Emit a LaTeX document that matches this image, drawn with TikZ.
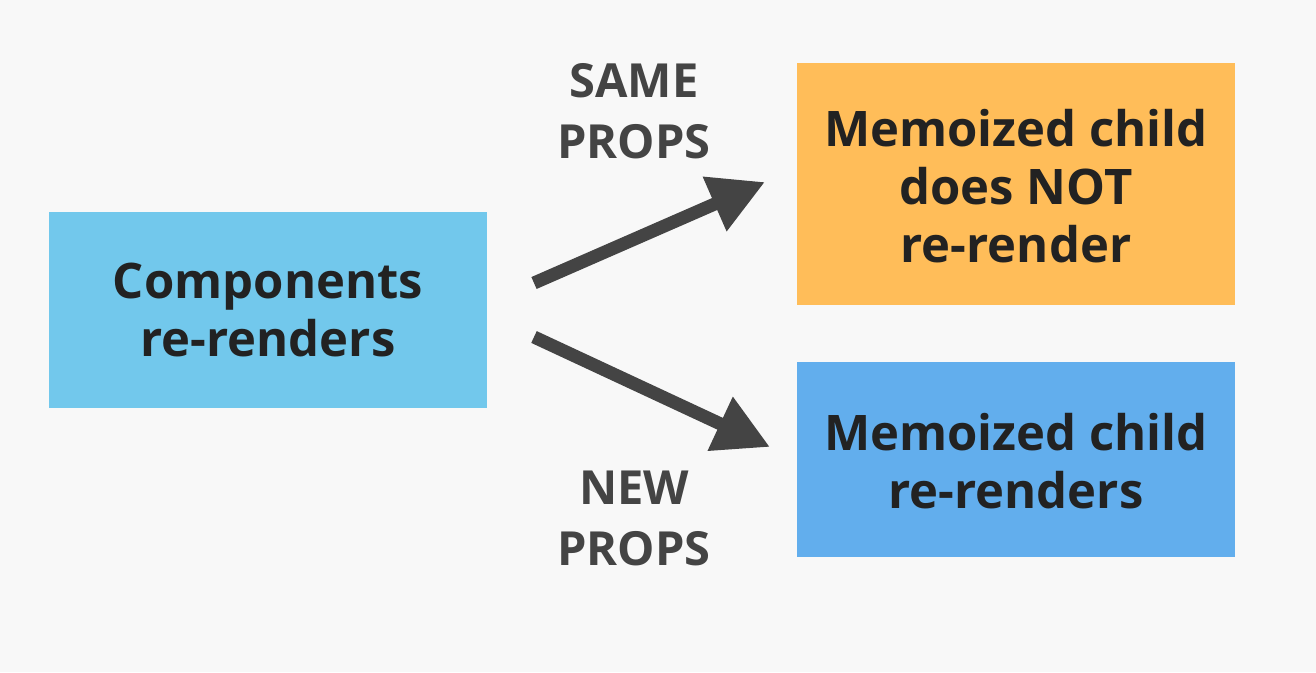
\documentclass[tikz,border=0pt]{standalone}
\usepackage{fontspec}
\setmainfont{Open Sans}
\usetikzlibrary{arrows.meta}
\definecolor{bg}{HTML}{F8F8F8}
\definecolor{cyanbox}{HTML}{72C8EC}
\definecolor{orangebox}{HTML}{FFBD59}
\definecolor{bluebox}{HTML}{62AEED}
\definecolor{boxtext}{HTML}{222222}
\definecolor{arrowgray}{HTML}{444444}
\tikzset{
  box/.style={inner sep=0pt, text=boxtext, align=center,
    font=\fontsize{49}{58}\selectfont\bfseries},
  lbl/.style={inner sep=0pt, text=arrowgray, align=center,
    font=\fontsize{47}{61}\selectfont\bfseries},
  bigarrow/.style={draw=arrowgray, line width=13pt,
    -{Triangle[length=55pt,width=56pt]}},
}
\begin{document}
\begin{tikzpicture}[x=1pt,y=-1pt]
\fill[bg] (0,0) rectangle (1316,672);
\useasboundingbox (0,0) rectangle (1316,672);
\fill[cyanbox] (49,212) rectangle (487,408);
\fill[orangebox] (797,63) rectangle (1235,305);
\fill[bluebox] (797,362) rectangle (1235,557);
\node[box] (comp) at (268,310) {Components\\re-renders};
\node[box] (memo1) at (1016,186) {Memoized child\\does NOT\\re-render};
\node[box] (memo2) at (1016,461) {Memoized child\\re-renders};
\node[lbl] (same) at (634,111) {SAME\\PROPS};
\node[lbl] (new) at (634,518) {NEW\\PROPS};
\coordinate (t1) at (534,283);
\coordinate (h1) at (765,182);
\coordinate (t2) at (534,337);
\coordinate (h2) at (770,447);
\draw[bigarrow] (t1) -- (h1);
\draw[bigarrow] (t2) -- (h2);
\end{tikzpicture}
\end{document}
